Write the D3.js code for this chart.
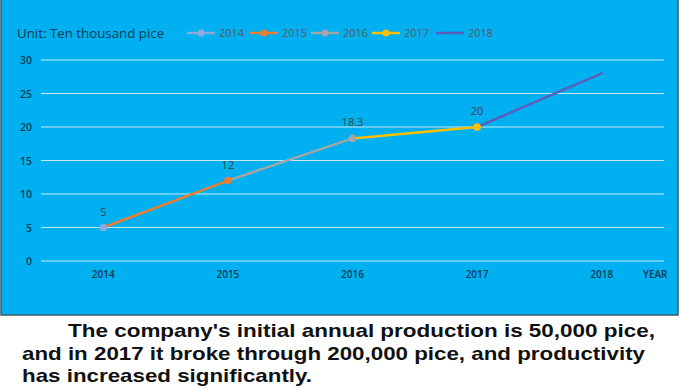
<!DOCTYPE html>
<html>
<head>
<meta charset="utf-8">
<script src="https://cdn.jsdelivr.net/npm/d3@7"></script>
<style>
  body { margin: 0; background: #fff; }
  svg { display: block; }
</style>
</head>
<body>
<svg id="chart" width="680" height="388"></svg>
<script>

  const years       = ['2014', '2015', '2016', '2017', '2018'];
  const production  = [5, 12, 18.3, 20, 28];
  const y_ticks     = [0, 5, 10, 15, 20, 25, 30];
  const series_names  = ['2014', '2015', '2016', '2017', '2018'];
  const series_colors = ['#8FAADC', '#ED7D31', '#A5A5A5', '#FFC000', '#5A5EBE'];
  const series_marker = [true, true, true, true, false];
  const point_labels  = ['5', '12', '18.3', '20', null];
  const caption_lines = [
    "The company's initial annual production is 50,000 pice,",
    "and in 2017 it broke through 200,000 pice, and productivity",
    "has increased significantly."
  ];

  const svg = d3.select('#chart');

  // blue panel
  svg.append('rect')
    .attr('x', 1).attr('y', -2)
    .attr('width', 677).attr('height', 317)
    .attr('fill', '#00B0F0')
    .attr('stroke', '#3d5a66')
    .attr('stroke-width', 1.5);

  const x = d3.scaleBand().domain(years).range([41, 664]);
  const y = d3.scaleLinear().domain([0, 30]).range([261, 60]);
  const cx = function (d) { return x(d) + x.bandwidth() / 2; };

  // gridlines
  svg.append('g').selectAll('line')
    .data(y_ticks)
    .join('line')
    .attr('x1', 41).attr('x2', 664)
    .attr('y1', d => y(d)).attr('y2', d => y(d))
    .attr('stroke', '#C6E9F7')
    .attr('stroke-width', 1.2);

  // y axis labels
  svg.append('g').selectAll('text')
    .data(y_ticks)
    .join('text')
    .attr('x', 32).attr('y', d => y(d) + 4)
    .attr('text-anchor', 'end')
    .attr('font-family', 'Open Sans, sans-serif')
    .attr('font-size', 10.5)
    .attr('font-weight', 600)
    .attr('fill', '#0E3A54')
    .text(d => d);

  // x axis labels
  svg.append('g').selectAll('text')
    .data(years)
    .join('text')
    .attr('x', d => cx(d)).attr('y', 278)
    .attr('text-anchor', 'middle')
    .attr('font-family', 'Open Sans, sans-serif')
    .attr('font-size', 10)
    .attr('font-weight', 600)
    .attr('fill', '#0E3A54')
    .text(d => d);

  svg.append('text')
    .attr('x', 643).attr('y', 278)
    .attr('font-family', 'Open Sans, sans-serif')
    .attr('font-size', 10)
    .attr('font-weight', 600)
    .attr('fill', '#0E3A54')
    .text('YEAR');

  // segments: series i joins point i-1 to point i
  for (let i = 1; i < series_names.length; i++) {
    svg.append('line')
      .attr('x1', cx(years[i - 1])).attr('y1', y(production[i - 1]))
      .attr('x2', cx(years[i])).attr('y2', y(production[i]))
      .attr('stroke', series_colors[i])
      .attr('stroke-width', 2.5)
      .attr('stroke-linecap', 'round');
  }
  for (let i = 0; i < series_names.length; i++) {
    if (series_marker[i]) {
      svg.append('circle')
        .attr('cx', cx(years[i])).attr('cy', y(production[i]))
        .attr('r', 3.8)
        .attr('fill', series_colors[i]);
    }
    if (point_labels[i] != null) {
      svg.append('text')
        .attr('x', cx(years[i])).attr('y', y(production[i]) - 12)
        .attr('text-anchor', 'middle')
        .attr('font-family', 'Open Sans, sans-serif')
        .attr('font-size', 11)
        .attr('fill', '#404040')
        .text(point_labels[i]);
    }
  }

  // legend
  svg.append('text')
    .attr('x', 17).attr('y', 38)
    .attr('font-family', 'Open Sans, sans-serif')
    .attr('font-size', 13.3)
    .attr('fill', '#0E3A54')
    .text('Unit: Ten thousand pice');

  const legend_x = [187, 250, 311, 372, 436];
  for (let i = 0; i < series_names.length; i++) {
    let g = svg.append('g').attr('transform', 'translate(' + legend_x[i] + ',33)');
    g.append('line')
      .attr('x1', 0).attr('x2', 28)
      .attr('stroke', series_colors[i])
      .attr('stroke-width', 2.5);
    if (series_marker[i]) {
      g.append('circle').attr('cx', 14).attr('r', 3.5).attr('fill', series_colors[i]);
    }
    g.append('text')
      .attr('x', 32).attr('y', 4)
      .attr('font-family', 'Open Sans, sans-serif')
      .attr('font-size', 11)
      .attr('fill', '#595959')
      .text(series_names[i]);
  }

  // caption, stretched to the widths seen in the picture
  const caption_x     = [68, 22, 22];
  const caption_width = [587, 623, 290];
  svg.append('g').selectAll('text')
    .data(caption_lines)
    .join('text')
    .attr('x', (d, i) => caption_x[i])
    .attr('y', (d, i) => 337 + i * 22.5)
    .attr('textLength', (d, i) => caption_width[i])
    .attr('lengthAdjust', 'spacingAndGlyphs')
    .attr('font-family', 'Liberation Sans, Arial, sans-serif')
    .attr('font-size', 19)
    .attr('font-weight', 'bold')
    .attr('fill', '#111')
    .text(d => d);

</script>
</body>
</html>
